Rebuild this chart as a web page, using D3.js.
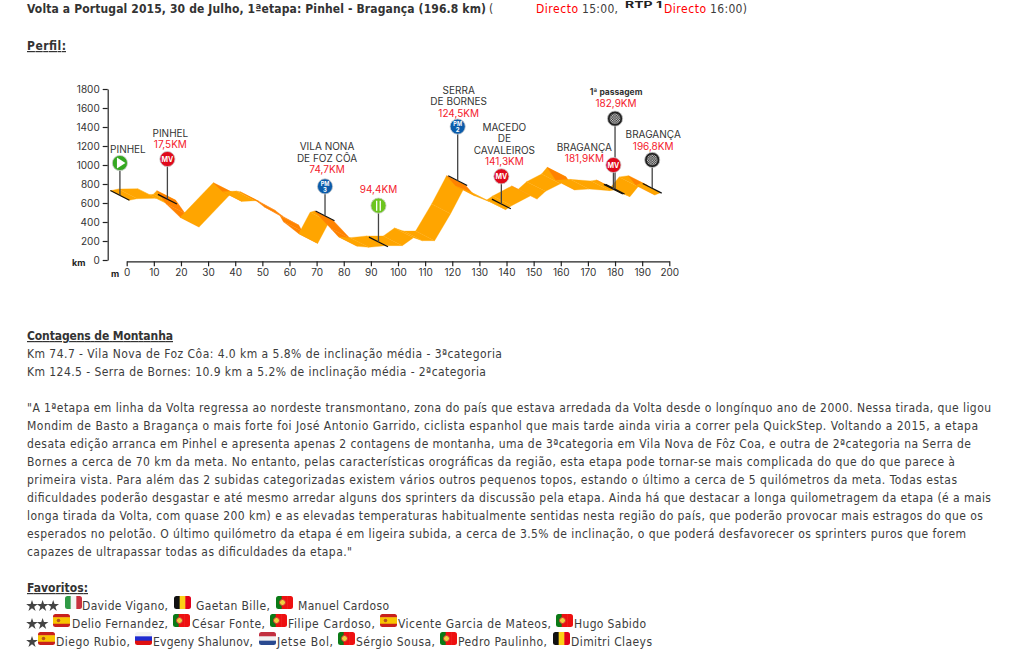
<!DOCTYPE html>
<html>
<head>
<meta charset="utf-8">
<script src="https://d3js.org/d3.v7.min.js"></script>
<style>
  html, body { margin: 0; padding: 0; background: #fff; }
  svg { display: block; }
  .txt { font-family: "DejaVu Sans Condensed", "DejaVu Sans", sans-serif; font-stretch: condensed; font-size: 12px; fill: #3c3c3c; }
  .bold { font-weight: bold; fill: #333; }
  .axis text { font-family: "Inter", sans-serif; font-size: 10px; fill: #333; }
  .axis path, .axis line { stroke: #222; stroke-width: 1.2px; }
  .lab { font-family: "Inter", sans-serif; font-size: 10px; text-anchor: middle; }
</style>
</head>
<body>
<svg id="page" width="1017" height="655"></svg>
<script>
// road centre line of the stage profile
var roadKm = [-2.6, 0.4, 7.4, 11.9, 13.3, 14.6, 18, 23.2, 35.4, 38.9, 43.8, 45.3, 51.4, 54.1, 60, 61.2, 66.9, 71.1, 72.7, 78.8, 81.5, 85.8, 91.9, 98.1, 102.2, 105.5, 110, 115.9, 121.4, 124.9, 130, 136.2, 138.4, 145.4, 147.8, 150.9, 156.4, 158.5, 161.7, 166.9, 174.6, 176.7, 178.9, 182, 185, 188.4, 191.2, 193.3];
var roadAlt = [679, 696, 700, 637, 640, 679, 542, 398, 763, 668, 675, 668, 570, 510, 416, 353, 226, 451, 465, 279, 195, 184, 202, 202, 286, 254, 254, 539, 837, 725, 668, 581, 623, 728, 693, 774, 854, 925, 788, 798, 781, 791, 753, 718, 823, 837, 735, 760];

var altTicks = [0, 200, 400, 600, 800, 1000, 1200, 1400, 1600, 1800];
var kmTicks = [0, 10, 20, 30, 40, 50, 60, 70, 80, 90, 100, 110, 120, 130, 140, 150, 160, 170, 180, 190, 200];

// half width of the ribbon, in axis units
var sideKm = 3.5;
var sideAlt = 51;

var markerKm = [-2.5, 15, 73.1, 92.8, 122, 138.1, 180, 179.4, 193.7];
var markerRoadAlt = [680, 640, 465, 190, 835, 590, 745, 745, 755];
var markerIconAlt = [1021, 1063, 775, 572, 1404, 881, 1488, 1000, 1053];
var markerType = ["start", "MV", "PM3", "food", "PM2", "MV", "finish", "MV", "finish"];
var markerNames = [["PINHEL"], ["PINHEL"], ["VILA NONA", "DE FOZ CÔA"], [], ["SERRA", "DE BORNES"], ["MACEDO", "DE", "CAVALEIROS"], ["1ª passagem"], ["BRAGANÇA"], ["BRAGANÇA"]];
var markerDist = ["", "17,5KM", "74,7KM", "94,4KM", "124,5KM", "141,3KM", "182,9KM", "181,9KM", "196,8KM"];
var labelShift = [8, 3, 2, 0, 1, 3, 1, -29, 1];
var labelLift = [10, 11, 13, 13, 10, 11, 12, 3, 10];

var climbs = [
  "Km 74.7 - Vila Nova de Foz Côa: 4.0 km a 5.8% de inclinação média - 3ªcategoria",
  "Km 124.5 - Serra de Bornes: 10.9 km a 5.2% de inclinação média - 2ªcategoria"
];
var climbEnds = [502, 486];

var para = [
  "\"A 1ªetapa em linha da Volta regressa ao nordeste transmontano, zona do país que estava arredada da Volta desde o longínquo ano de 2000. Nessa tirada, que ligou",
  "Mondim de Basto a Bragança o mais forte foi José Antonio Garrido, ciclista espanhol que mais tarde ainda viria a correr pela QuickStep. Voltando a 2015, a etapa",
  "desata edição arranca em Pinhel e apresenta apenas 2 contagens de montanha, uma de 3ªcategoria em Vila Nova de Fôz Coa, e outra de 2ªcategoria na Serra de",
  "Bornes a cerca de 70 km da meta. No entanto, pelas características orográficas da região, esta etapa pode tornar-se mais complicada do que do que parece à",
  "primeira vista. Para além das 2 subidas categorizadas existem vários outros pequenos topos, estando o último a cerca de 5 quilómetros da meta. Todas estas",
  "dificuldades poderão desgastar e até mesmo arredar alguns dos sprinters da discussão pela etapa. Ainda há que destacar a longa quilometragem da etapa (é a mais",
  "longa tirada da Volta, com quase 200 km) e as elevadas temperaturas habitualmente sentidas nesta região do país, que poderão provocar mais estragos do que os",
  "esperados no pelotão. O último quilómetro da etapa é em ligeira subida, a cerca de 3.5% de inclinação, o que poderá desfavorecer os sprinters puros que forem",
  "capazes de ultrapassar todas as dificuldades da etapa.\""
];
var paraEnds = [991, 978, 971, 955, 957, 991, 983, 966, 352];

// favourites: [flag, flag x, name, name x, name end]
var fav1 = [["it", 65, "Davide Vigano,", 82, 168], ["be", 174, "Gaetan Bille,", 196, 270], ["pt", 276, "Manuel Cardoso", 298, 389]];
var fav2 = [["es", 53, "Delio Fernandez,", 72, 168], ["pt", 173, "César Fonte,", 192, 265], ["pt", 270, "Filipe Cardoso,", 288, 375], ["es", 380, "Vicente Garcia de Mateos,", 398, 551], ["pt", 556, "Hugo Sabido", 574, 646]];
var fav3 = [["es", 38, "Diego Rubio,", 56, 130], ["ru", 135, "Evgeny Shalunov,", 153, 253], ["nl", 259, "Jetse Bol,", 277, 333], ["pt", 338, "Sérgio Sousa,", 356, 435], ["pt", 440, "Pedro Paulinho,", 458, 547], ["be", 553, "Dimitri Claeys", 571, 652]];

var svg = d3.select("#page");

var x = d3.scaleLinear().domain([0, 200]).range([126.7, 669.3]);
var y = d3.scaleLinear().domain([0, 1800]).range([260, 89]);

function line(str, x0, base, x1, cls) {
  var t = svg.append("text").attr("class", "txt " + (cls || "")).attr("x", x0).attr("y", base).text(str);
  if (x1) t.attr("textLength", x1 - x0).attr("lengthAdjust", "spacing");
  return t;
}

// ---- page text
line("Volta a Portugal 2015, 30 de Julho, 1ªetapa: Pinhel - Bragança (196.8 km)", 27, 13, 486, "bold");
line("(", 489, 13);
line("Directo", 536, 13, 578).style("fill", "#f00");
line("15:00,", 582, 13, 618);
svg.append("text").attr("x", 625).attr("y", 8).attr("textLength", 37).attr("lengthAdjust", "spacingAndGlyphs")
  .style("font-family", "Inter, sans-serif").style("font-weight", "bold").style("font-size", "9px").style("fill", "#222").text("RTP 1");
line("Directo", 664, 13, 706).style("fill", "#f00");
line("16:00)", 710, 13, 747);

line("Perfil:", 27, 50, 66, "bold").style("text-decoration", "underline");
line("Contagens de Montanha", 27, 340, 173, "bold").style("text-decoration", "underline");
climbs.forEach(function(s, i) { line(s, 27, 358 + i * 18, climbEnds[i]); });
para.forEach(function(s, i) { line(s, 27, 412 + i * 18, paraEnds[i]); });
line("Favoritos:", 27, 592, 88, "bold").style("text-decoration", "underline");

// ---- axes
var gy = svg.append("g").attr("class", "axis").attr("transform", "translate(107.7,0)")
  .call(d3.axisLeft(y).tickValues(altTicks).tickSize(5).tickSizeOuter(0).tickFormat(d3.format("d")));
var gx = svg.append("g").attr("class", "axis").attr("transform", "translate(0,261.3)")
  .call(d3.axisBottom(x).tickValues(kmTicks).tickSize(5).tickSizeOuter(0).tickFormat(d3.format("d")));
gy.selectAll("text").attr("x", -8);
gx.selectAll("text").attr("y", 8);
svg.append("text").attr("x", 72).attr("y", 266).style("font", "bold 9px Inter, sans-serif").style("fill", "#222").text("km");
svg.append("text").attr("x", 111).attr("y", 277).style("font", "bold 9px Inter, sans-serif").style("fill", "#222").text("m");

// ---- ribbon, one face per road segment
function faceColor(i) {
  var dx = x(roadKm[i + 1]) - x(roadKm[i]);
  var dy = y(roadAlt[i + 1]) - y(roadAlt[i]);
  var sx = x(sideKm) - x(0);
  var sy = y(0) - y(sideAlt);
  return dy * sx - dx * sy > 0 ? "#ff8200" : "#ffa500";
}
var faces = d3.range(roadKm.length - 1);
svg.append("g").selectAll("path").data(faces).enter().append("path")
  .attr("d", function(i) {
    return "M" + x(roadKm[i] - sideKm) + "," + y(roadAlt[i] + sideAlt)
      + "L" + x(roadKm[i] + sideKm) + "," + y(roadAlt[i] - sideAlt)
      + "L" + x(roadKm[i + 1] + sideKm) + "," + y(roadAlt[i + 1] - sideAlt)
      + "L" + x(roadKm[i + 1] - sideKm) + "," + y(roadAlt[i + 1] + sideAlt) + "Z";
  })
  .attr("fill", faceColor)
  .attr("stroke", faceColor)
  .attr("stroke-width", 0.3);

// ---- markers
var defs = svg.append("defs");
var pat = defs.append("pattern").attr("id", "chk").attr("width", 2.4).attr("height", 2.4).attr("patternUnits", "userSpaceOnUse");
pat.append("rect").attr("width", 2.4).attr("height", 2.4).attr("fill", "#222");
pat.append("rect").attr("width", 1.2).attr("height", 1.2).attr("fill", "#ddd");
pat.append("rect").attr("x", 1.2).attr("y", 1.2).attr("width", 1.2).attr("height", 1.2).attr("fill", "#ddd");

var icon = { start: "#34a820", MV: "#e0091c", PM3: "#0b5cab", PM2: "#0b5cab", food: "#6cc51e", finish: "#222" };

markerKm.forEach(function(km, i) {
  var cx = x(km), rd = y(markerRoadAlt[i]), cy = y(markerIconAlt[i]);
  // cross section of the road under the pole
  svg.append("line").attr("x1", x(km - sideKm)).attr("y1", y(markerRoadAlt[i] + sideAlt))
    .attr("x2", x(km + sideKm)).attr("y2", y(markerRoadAlt[i] - sideAlt))
    .attr("stroke", "#111").attr("stroke-width", 1.2);
  svg.append("line").attr("x1", cx).attr("y1", cy).attr("x2", cx).attr("y2", rd)
    .attr("stroke", "#444").attr("stroke-width", 1.3);
  svg.append("circle").attr("cx", cx).attr("cy", cy).attr("r", 7.6)
    .attr("fill", icon[markerType[i]]).attr("stroke", "#ccc").attr("stroke-width", 0.8);

  var t = markerType[i];
  if (t == "MV") {
    svg.append("text").attr("x", cx).attr("y", cy + 2.6).attr("text-anchor", "middle")
      .style("font", "bold 7px Inter, sans-serif").style("fill", "#fff").text("MV");
  } else if (t == "PM2" || t == "PM3") {
    svg.append("text").attr("x", cx).attr("y", cy - 0.3).attr("text-anchor", "middle")
      .style("font", "bold 5.5px Inter, sans-serif").style("fill", "#fff").text("PM");
    svg.append("text").attr("x", cx).attr("y", cy + 5.6).attr("text-anchor", "middle")
      .style("font", "bold 6px Inter, sans-serif").style("fill", "#fff").text(t.charAt(2));
  } else if (t == "start") {
    svg.append("path").attr("d", d3.line()([[cx - 3, cy - 5.5], [cx + 5.5, cy], [cx - 3, cy + 5.5]]) + "Z").attr("fill", "#fff");
  } else if (t == "food") {
    svg.append("line").attr("x1", cx - 1.8).attr("y1", cy - 5).attr("x2", cx - 1.8).attr("y2", cy + 5).attr("stroke", "#fff").attr("stroke-width", 1.3);
    svg.append("line").attr("x1", cx + 1.8).attr("y1", cy - 5).attr("x2", cx + 1.8).attr("y2", cy + 5).attr("stroke", "#fff").attr("stroke-width", 1.3);
  } else if (t == "finish") {
    svg.append("circle").attr("cx", cx).attr("cy", cy).attr("r", 5.4).attr("fill", "url(#chk)");
  }

  // labels stacked upward from the icon
  var lx = cx + labelShift[i];
  var by = cy - labelLift[i];
  if (markerDist[i]) {
    svg.append("text").attr("class", "lab").attr("x", lx).attr("y", by).style("fill", "#f4202c").text(markerDist[i]);
    by -= 11.5;
  }
  markerNames[i].slice().reverse().forEach(function(n) {
    var tt = svg.append("text").attr("class", "lab").attr("x", lx).attr("y", by).style("fill", "#333").text(n);
    if (n.charAt(1) == "ª") tt.style("font-weight", "bold").style("font-size", "8.5px");
    by -= 11.5;
  });
});

// ---- favourites
var flagBands = {
  it: { dir: "v", c: ["#2f9a45", "#f4f4f4", "#c8313e"] },
  be: { dir: "v", c: ["#111", "#fcd116", "#e2001a"] },
  pt: { dir: "v", c: ["#0b7a16", "#ee1010", "#ee1010"] },
  es: { dir: "h", c: ["#c8201c", "#f8c400", "#f8c400", "#c8201c"] },
  ru: { dir: "h", c: ["#f2f2f2", "#1f2bd0", "#e01010"] },
  nl: { dir: "h", c: ["#c23040", "#f2f2f2", "#2a4a90"] }
};
var flagId = 0;

function flag(code, fx, fy) {
  var w = 17, h = 13, id = "fl" + (flagId++), b = flagBands[code];
  defs.append("clipPath").attr("id", id).append("rect").attr("x", fx).attr("y", fy).attr("width", w).attr("height", h).attr("rx", 2.5);
  var g = svg.append("g").attr("clip-path", "url(#" + id + ")");
  b.c.forEach(function(c, i) {
    var n = b.c.length;
    g.append("rect")
      .attr("x", b.dir == "v" ? fx + i * w / n : fx)
      .attr("y", b.dir == "h" ? fy + i * h / n : fy)
      .attr("width", b.dir == "v" ? w / n + 0.5 : w)
      .attr("height", b.dir == "h" ? h / n + 0.5 : h)
      .attr("fill", c);
  });
  if (code == "pt") g.append("circle").attr("cx", fx + 6.5).attr("cy", fy + 6.5).attr("r", 3).attr("fill", "#f0d040").attr("stroke", "#c33").attr("stroke-width", 1);
  if (code == "es") g.append("circle").attr("cx", fx + 5.5).attr("cy", fy + 6.5).attr("r", 1.8).attr("fill", "#b5541c");
}

function favRow(row, base) {
  row.forEach(function(r) {
    flag(r[0], r[1], base - 14);
    line(r[2], r[3], base, r[4]);
  });
}
favRow(fav1, 610);
favRow(fav2, 628);
favRow(fav3, 646);

function stars(n, base) {
  d3.range(n).forEach(function(i) {
    svg.append("path").attr("d", d3.symbol(d3.symbolStar, 42)())
      .attr("transform", "translate(" + (32 + i * 10.6) + "," + (base - 4) + ")").attr("fill", "#444");
  });
}
stars(3, 610);
stars(2, 628);
stars(1, 646);
</script>
</body>
</html>
